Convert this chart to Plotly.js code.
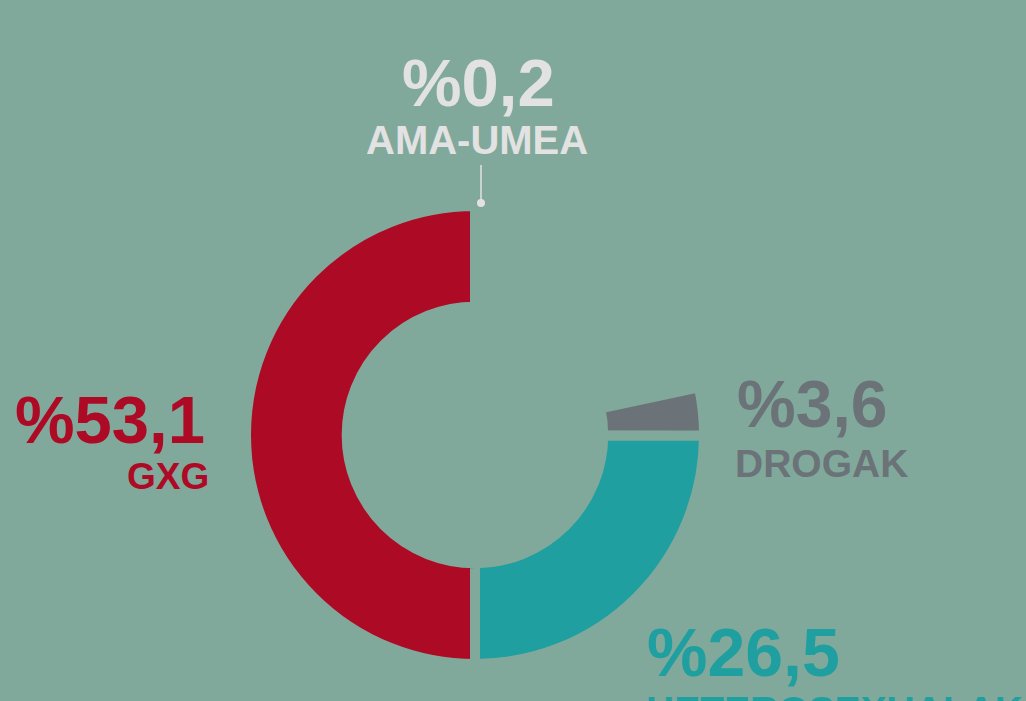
<!DOCTYPE html>
<html>
<head>
<meta charset="utf-8">
<script src="https://cdn.plot.ly/plotly-3.0.1.min.js"></script>
<style>
  html, body { margin: 0; padding: 0; background: #80a99b; }
  #chart { width: 1026px; height: 701px; }
</style>
</head>
<body>
<div id="chart"></div>
<script>
// ---- data ----
const categories = ["AMA-UMEA", "GXG", "HETEROSEXUALAK", "DROGAK"];
const shares = [0.2, 53.1, 26.5, 3.6];              // percent
const shareLabels = ["%0,2", "%53,1", "%26,5", "%3,6"];
const colors = ["#e2e2e2", "#ad0a25", "#1f9fa0", "#6b7378"];
// the graphic draws GXG as exactly half of the ring
const ringTotal = 2 * shares[1];

// ---- layout helpers ----
const W = 1026, H = 701;
const bg = "#80a99b";
const cx = 475, cy = 435, R = 229;
const px = v => v / W;
const py = v => 1 - v / H;

// order clockwise from 12 o'clock: AMA-UMEA, empty, DROGAK, HETEROSEXUALAK, GXG
const filler = ringTotal - shares.reduce((a, b) => a + b, 0);
const pieLabels = [categories[0], "", categories[3], categories[2], categories[1]];
const pieValues = [shares[0], filler, shares[3], shares[2], shares[1]];
const pieColors = [colors[0], "rgba(0,0,0,0)", colors[3], colors[2], colors[1]];

const trace = {
  type: "pie",
  labels: pieLabels,
  values: pieValues,
  sort: false,
  direction: "clockwise",
  rotation: 0,
  hole: 0.56,
  textinfo: "none",
  hoverinfo: "skip",
  showlegend: false,
  marker: { colors: pieColors, line: { color: bg, width: 10 } },
  domain: { x: [px(cx - R), px(cx + R)], y: [py(cy + R), py(cy - R)] }
};

const F = "'Liberation Sans', Arial, Helvetica, sans-serif";
function ann(text, x, y, size, color, xanchor) {
  return {
    text: "<b>" + text + "</b>", xref: "paper", yref: "paper",
    x: x, y: y, xanchor: xanchor, yanchor: "middle", showarrow: false,
    font: { family: F, size: size, color: color }
  };
}

const annotations = [
  ann(shareLabels[0], px(478), py(82.5), 67, colors[0], "center"),
  ann(categories[0], px(476.5), py(140), 40, colors[0], "center"),
  ann(shareLabels[1], px(207), py(419), 67, colors[1], "right"),
  ann(categories[1], px(211), py(476.5), 37, colors[1], "right"),
  ann(shareLabels[3], px(735), py(404), 66, colors[3], "left"),
  ann(categories[3], px(733), py(463.5), 39, colors[3], "left"),
  ann(shareLabels[2], px(645), py(651.5), 68, colors[2], "left"),
  ann(categories[2], px(644), py(710.5), 39, colors[2], "left")
];

const shapes = [
  { type: "line", xref: "paper", yref: "paper",
    x0: px(481), x1: px(481), y0: py(165), y1: py(201),
    line: { color: colors[0], width: 1.5 } },
  { type: "circle", xref: "paper", yref: "paper",
    x0: px(477), x1: px(485), y0: py(207), y1: py(199),
    fillcolor: colors[0], line: { width: 0 } }
];

const layout = {
  width: W, height: H,
  margin: { l: 0, r: 0, t: 0, b: 0 },
  paper_bgcolor: bg, plot_bgcolor: bg,
  showlegend: false,
  annotations: annotations,
  shapes: shapes
};

Plotly.newPlot("chart", [trace], layout, { displayModeBar: false, staticPlot: true });
</script>
</body>
</html>
